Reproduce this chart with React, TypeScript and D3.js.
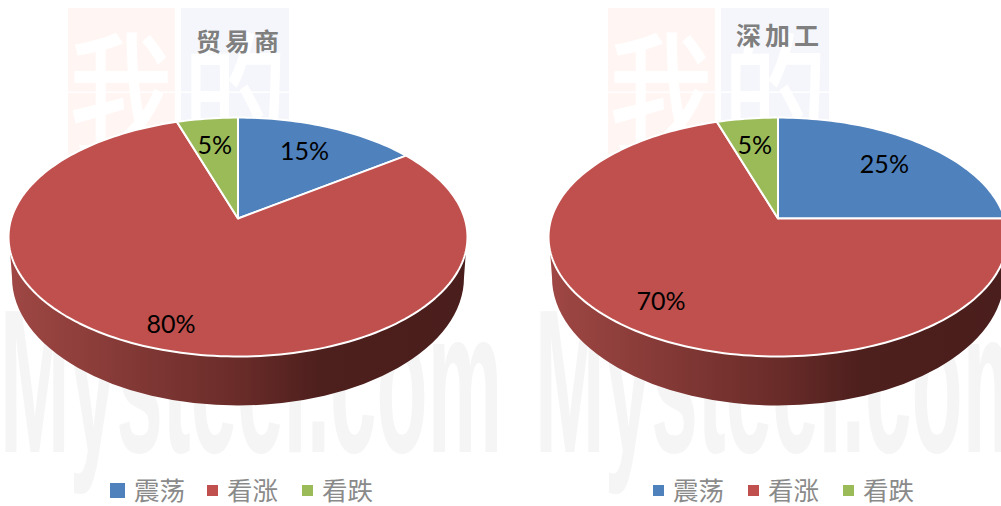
import React from "react";
import * as d3 from "d3";

const categories = ["震荡", "看涨", "看跌"];
const colors = ["#4f81bd", "#c0504d", "#9bbb59"];
const traderTitle = "贸易商";
const traderValues = [15, 80, 5];
const processorTitle = "深加工";
const processorValues = [25, 70, 5];
const labelFont = "Lato, 'Open Sans', sans-serif";
const cjk = "'Noto Sans CJK SC', sans-serif";

function project(theta: number, f = 1) {
  const w = 1 + 0.155 * Math.cos(theta);
  return [(226.7 * f * Math.sin(theta)) / w, (-116.6 * f * Math.cos(theta)) / w];
}

function Watermark({ x, textX }: { x: number; textX: number }) {
  return (
    <g>
      <g transform={`translate(${x},0)`}>
        <rect x={68} y={8} width={107} height={160} fill="#fff5f3" />
        <rect x={181} y={8} width={108} height={160} fill="#f5f6fb" />
        <g transform="translate(121,146) scale(1,1.3)">
          <text x={0} y={0} fontSize={104} fontWeight={500} fill="#fff" textAnchor="middle" fontFamily={cjk}>我</text>
        </g>
        <g transform="translate(235,146) scale(1,1.3)">
          <text x={0} y={0} fontSize={104} fontWeight={500} fill="#fff" textAnchor="middle" fontFamily={cjk}>的</text>
        </g>
        <rect x={68} y={91.5} width={221} height={1.5} fill="#fff" />
      </g>
      <text x={textX} y={452} fontSize={204} fontWeight={700} fill="#f5f5f5" textLength={502} lengthAdjust="spacingAndGlyphs" fontFamily="'Liberation Sans', sans-serif">Mysteel.com</text>
    </g>
  );
}

function Pie3D({ cx, title, titleX, titleY, values, id, legendX, swatch, labelR }: any) {
  const apexY = 218.5;
  const arcs = d3.pie<number>().sort(null)(values);
  const slicePath = (a: any) => {
    const n = Math.max(4, Math.ceil((a.endAngle - a.startAngle) * 40));
    const pts = d3.range(n + 1).map((i) => project(a.startAngle + ((a.endAngle - a.startAngle) * i) / n));
    return d3.line()([[0, 0], ...pts] as any) + "Z";
  };
  const side = `M-229,18 L-226,59 A226,128 0 0 0 226,59 L229,18 A229.5,119.5 0 0 1 -229,18 Z`;
  return (
    <g>
      <g transform={`translate(${cx},${apexY})`}>
        <path d={side} fill={`url(#${id})`} />
        {arcs.map((a: any, i: number) => (
          <path key={i} d={slicePath(a)} fill={colors[i]} stroke="#fff" strokeWidth={2} strokeLinejoin="round" />
        ))}
        {arcs.map((a: any, i: number) => {
          const [lx, ly] = project((a.startAngle + a.endAngle) / 2, labelR[i]);
          return (
            <text key={i} x={lx - 0.5} y={ly + 9} fontSize={25} fill="#000" textAnchor="middle" fontFamily={labelFont}>
              {values[i]}%
            </text>
          );
        })}
      </g>
      <text x={titleX} y={titleY} fontSize={25} fontWeight={700} fill="#7f7f7f" letterSpacing={4} fontFamily={cjk}>{title}</text>
      {categories.map((c, i) => {
        const sx = legendX[i];
        const size = swatch[i];
        return (
          <g key={c}>
            <rect x={sx} y={490.5 - size / 2} width={size} height={size} fill={colors[i]} />
            <text x={sx + size + 9} y={500} fontSize={25.5} fill="#8a8a8a" fontFamily={cjk}>{c}</text>
          </g>
        );
      })}
    </g>
  );
}

export default function App() {
  const stops = [
    [0, "#9f4744"],
    [0.5, "#6a2c29"],
    [0.68, "#4d1f1d"],
    [1, "#4a1e1c"],
  ];
  return (
    <svg width={1001} height={506} viewBox="0 0 1001 506" style={{ position: "absolute", left: 0, top: 0, display: "block", background: "#fff" }}>
      <defs>
        {["gradA", "gradB"].map((id) => (
          <linearGradient key={id} id={id} x1="0" x2="1" y1="0" y2="0">
            {stops.map(([o, c]) => <stop key={o as number} offset={o as number} stopColor={c as string} />)}
          </linearGradient>
        ))}
      </defs>
      <Watermark x={0} textX={0} />
      <Watermark x={540} textX={535} />
      <Pie3D cx={238} title={traderTitle} titleX={196} titleY={51} values={traderValues} id="gradA" legendX={[110, 207, 302]} swatch={[15, 11, 11]} labelR={[0.74, 0.81, 0.74]} />
      <Pie3D cx={778} title={processorTitle} titleX={736} titleY={45} values={processorValues} id="gradB" legendX={[653, 748, 843]} swatch={[11, 11, 11]} labelR={[0.74, 0.765, 0.74]} />
    </svg>
  );
}
